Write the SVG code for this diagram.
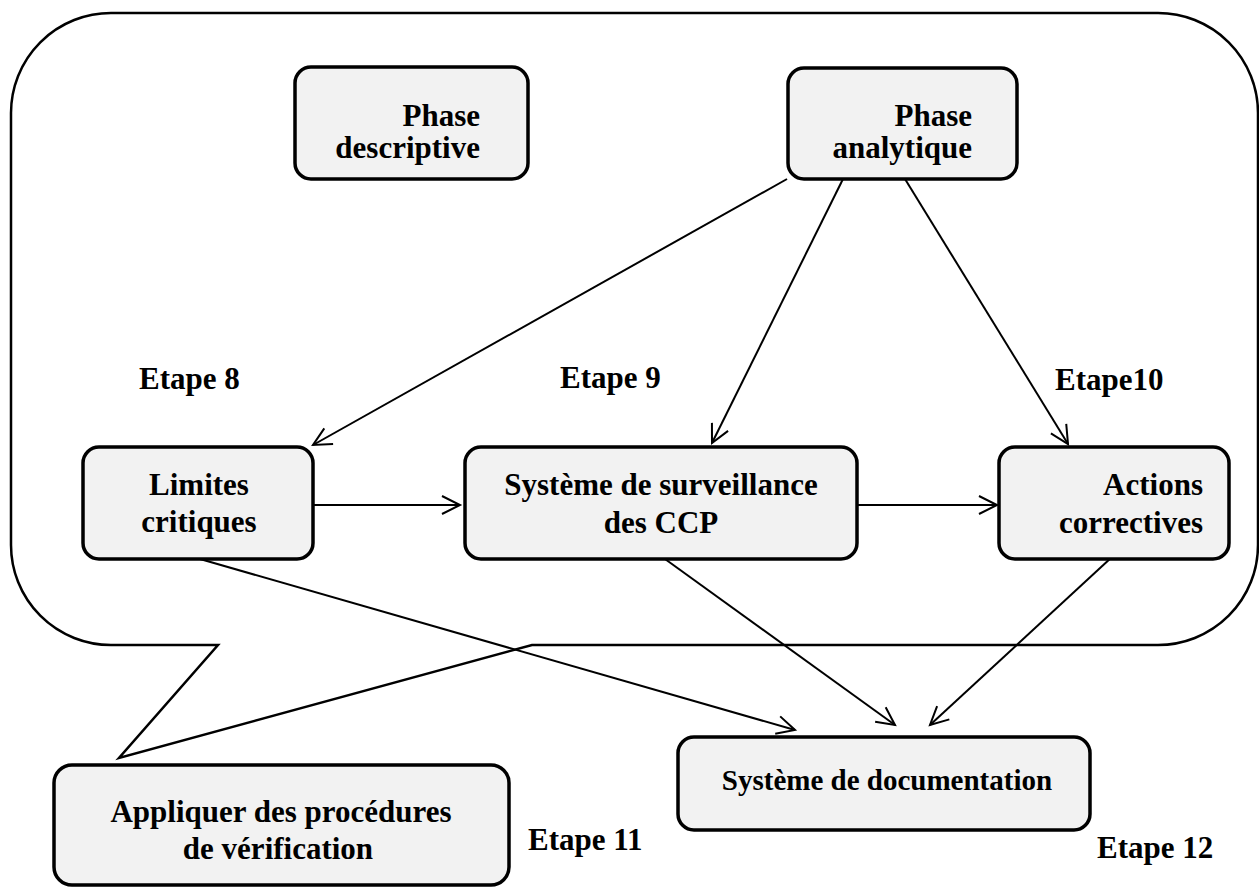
<svg xmlns="http://www.w3.org/2000/svg" width="1259" height="888" viewBox="0 0 1259 888">
  <defs>
    <style>
      .box { fill: #f2f2f2; stroke: #000; stroke-width: 3.5; }
      .lbl { font-family: "Liberation Serif", "Times New Roman", serif; font-weight: bold; font-size: 31px; fill: #000; }
      .edge { fill: none; stroke: #000; stroke-width: 2; }
      .callout { fill: none; stroke: #000; stroke-width: 2.5; stroke-linejoin: miter; }
    </style>
    <marker id="arrow" markerUnits="userSpaceOnUse" markerWidth="24" markerHeight="24" refX="20" refY="11" orient="auto">
      <path d="M2,2 L20,11 L2,20" fill="none" stroke="#000" stroke-width="2"/>
    </marker>
  </defs>

  <rect width="1259" height="888" fill="#fff"/>

  <!-- callout balloon with pointer towards the verification step -->
  <path class="callout" d="M111,13 H1158 A100,100 0 0 1 1258,113 V545 A100,100 0 0 1 1158,645 H532 L119,758 L218,645 H111 A100,100 0 0 1 11,545 V113 A100,100 0 0 1 111,13 Z"/>

  <!-- connectors -->
  <g id="connectors" class="edge">
    <line x1="787" y1="179" x2="313" y2="445" marker-end="url(#arrow)"/>
    <line x1="843" y1="179" x2="712" y2="443" marker-end="url(#arrow)"/>
    <line x1="905" y1="179" x2="1068" y2="444" marker-end="url(#arrow)"/>
    <line x1="313" y1="505" x2="460" y2="505" marker-end="url(#arrow)"/>
    <line x1="857" y1="505" x2="997" y2="505" marker-end="url(#arrow)"/>
    <line x1="200" y1="559" x2="795" y2="730" marker-end="url(#arrow)"/>
    <line x1="665" y1="559" x2="895" y2="725" marker-end="url(#arrow)"/>
    <line x1="1112" y1="557" x2="930" y2="725" marker-end="url(#arrow)"/>
  </g>

  <g id="phase-descriptive">
    <rect class="box" x="295" y="67" width="233" height="112" rx="16"/>
    <text class="lbl" x="480" y="126" text-anchor="end">Phase</text>
    <text class="lbl" x="480" y="158" text-anchor="end">descriptive</text>
  </g>

  <g id="phase-analytique">
    <rect class="box" x="788" y="68" width="229" height="111" rx="16"/>
    <text class="lbl" x="972" y="126" text-anchor="end">Phase</text>
    <text class="lbl" x="972" y="158" text-anchor="end">analytique</text>
  </g>

  <g id="limites-critiques">
    <rect class="box" x="83" y="447" width="230" height="112" rx="16"/>
    <text class="lbl" x="199" y="495" text-anchor="middle">Limites</text>
    <text class="lbl" x="199" y="532" text-anchor="middle">critiques</text>
  </g>

  <g id="surveillance">
    <rect class="box" x="465" y="447" width="392" height="112" rx="16"/>
    <text class="lbl" x="661" y="495" text-anchor="middle">Système de surveillance</text>
    <text class="lbl" x="661" y="533" text-anchor="middle">des CCP</text>
  </g>

  <g id="actions-correctives">
    <rect class="box" x="999" y="447" width="230" height="112" rx="16"/>
    <text class="lbl" x="1203" y="495" text-anchor="end">Actions</text>
    <text class="lbl" x="1203" y="533" text-anchor="end">correctives</text>
  </g>

  <g id="documentation">
    <rect class="box" x="678" y="737" width="412" height="93" rx="16"/>
    <text class="lbl" x="887" y="790" text-anchor="middle" style="font-size:29px">Système de documentation</text>
  </g>

  <g id="verification">
    <rect class="box" x="54" y="765" width="455" height="120" rx="18"/>
    <text class="lbl" x="281" y="822" text-anchor="middle">Appliquer des procédures</text>
    <text class="lbl" x="278" y="859" text-anchor="middle">de vérification</text>
  </g>

  <!-- step labels -->
  <g id="steps">
    <text class="lbl" x="139" y="389">Etape 8</text>
    <text class="lbl" x="560" y="388">Etape 9</text>
    <text class="lbl" x="1055" y="390">Etape10</text>
    <text class="lbl" x="528" y="850">Etape 11</text>
    <text class="lbl" x="1097" y="858">Etape 12</text>
  </g>
</svg>
